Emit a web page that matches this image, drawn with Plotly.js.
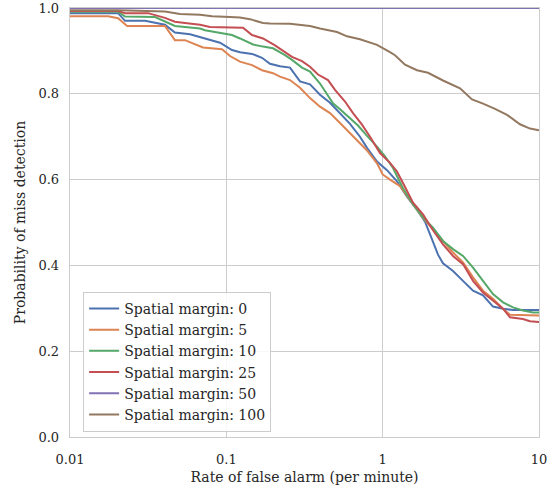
<!DOCTYPE html>
<html>
<head>
<meta charset="utf-8">
<script src="https://cdn.plot.ly/plotly-3.0.1.min.js"></script>
<style>html,body{margin:0;padding:0;background:#fff;}#chart{width:556px;height:492px;}</style>
</head>
<body>
<div id="chart"></div>
<script>
// ---- data ----
const seriesNames = ["Spatial margin: 0", "Spatial margin: 5", "Spatial margin: 10", "Spatial margin: 25", "Spatial margin: 50", "Spatial margin: 100"];
const seriesColors = ["#4C72B0", "#DD8452", "#55A868", "#C44E52", "#8172B3", "#937860"];

const xMargin0 = [0.01,0.0203,0.0225,0.0302,0.0405,0.0469,0.0586,0.073,0.0911,0.1087,0.1223,0.146,0.1691,0.1903,0.2204,0.2554,0.296,0.3429,0.3973,0.4604,0.5335,0.6182,0.7161,0.794,0.92,1.066,1.235,1.431,1.659,1.866,2.099,2.259,2.432,2.818,3.265,3.784,4.384,5.079,5.886,6.82,10];
const yMargin0 = [0.988,0.988,0.970,0.970,0.961,0.943,0.939,0.929,0.919,0.902,0.897,0.893,0.884,0.870,0.864,0.861,0.829,0.822,0.798,0.779,0.755,0.730,0.700,0.674,0.642,0.622,0.596,0.560,0.530,0.502,0.455,0.425,0.405,0.387,0.364,0.341,0.330,0.304,0.299,0.296,0.296];

const xMargin5 = [0.01,0.0175,0.0203,0.0232,0.0405,0.0469,0.0544,0.0709,0.0938,0.1056,0.1223,0.146,0.1691,0.1989,0.2204,0.2554,0.296,0.3429,0.3973,0.4604,0.5335,0.6182,0.6855,0.794,0.92,1.0,1.114,1.291,1.564,1.811,2.099,2.432,2.818,3.265,3.784,4.384,5.079,5.886,6.525,10];
const yMargin5 = [0.981,0.981,0.976,0.958,0.958,0.925,0.925,0.908,0.904,0.888,0.875,0.867,0.855,0.848,0.840,0.832,0.814,0.790,0.770,0.755,0.732,0.708,0.692,0.668,0.638,0.612,0.600,0.585,0.542,0.511,0.484,0.457,0.430,0.407,0.372,0.341,0.322,0.299,0.285,0.283];

const xMargin10 = [0.01,0.0203,0.0225,0.035,0.0469,0.0679,0.073,0.0911,0.1087,0.1223,0.1482,0.1716,0.1989,0.2373,0.263,0.3048,0.3429,0.3973,0.4812,0.5335,0.6182,0.6957,0.794,0.92,1.035,1.165,1.349,1.564,1.811,2.099,2.432,2.818,3.265,3.784,4.384,5.079,5.886,6.82,7.901,9.155,10];
const yMargin10 = [0.991,0.991,0.980,0.979,0.958,0.952,0.948,0.942,0.937,0.929,0.915,0.910,0.906,0.890,0.879,0.861,0.852,0.824,0.778,0.764,0.742,0.726,0.702,0.677,0.654,0.627,0.580,0.542,0.512,0.488,0.457,0.438,0.422,0.395,0.364,0.333,0.314,0.302,0.295,0.290,0.290];

const xMargin25 = [0.01,0.0203,0.0225,0.0316,0.0405,0.0469,0.0544,0.0679,0.0786,0.1056,0.1279,0.146,0.1716,0.2048,0.2373,0.263,0.3048,0.3429,0.3859,0.4471,0.4956,0.5743,0.6461,0.7375,0.8299,0.9616,1.114,1.235,1.349,1.564,1.811,2.099,2.432,2.818,3.265,3.784,4.384,5.079,5.886,6.525,7.901,8.76,10];
const yMargin25 = [0.993,0.993,0.988,0.988,0.977,0.968,0.965,0.961,0.956,0.955,0.954,0.937,0.929,0.913,0.898,0.886,0.876,0.863,0.845,0.832,0.809,0.782,0.755,0.728,0.700,0.662,0.639,0.619,0.592,0.546,0.519,0.482,0.449,0.422,0.403,0.364,0.337,0.318,0.299,0.279,0.275,0.270,0.268];

const xMargin50 = [0.01,0.1,1,10];
const yMargin50 = [1.0,1.0,1.0,1.0];

const xMargin100 = [0.01,0.0203,0.0405,0.0505,0.0679,0.081,0.1056,0.1223,0.1417,0.1716,0.1903,0.2554,0.3429,0.3973,0.5105,0.5915,0.7161,0.92,1.114,1.199,1.39,1.659,1.95,2.432,3.124,3.728,4.384,5.231,6.243,7.558,8.76,10];
const yMargin100 = [0.995,0.995,0.992,0.986,0.984,0.981,0.979,0.978,0.974,0.965,0.964,0.963,0.958,0.952,0.944,0.934,0.927,0.914,0.897,0.890,0.868,0.855,0.849,0.831,0.813,0.787,0.777,0.765,0.751,0.729,0.719,0.715];

const xTickVals = [0.01, 0.1, 1, 10];
const xTickText = ["0.01", "0.1", "1", "10"];
const yTickVals = [0, 0.2, 0.4, 0.6, 0.8, 1.0];
const yTickText = ["0.0", "0.2", "0.4", "0.6", "0.8", "1.0"];

// ---- chart ----
const xs = [xMargin0, xMargin5, xMargin10, xMargin25, xMargin50, xMargin100];
const ys = [yMargin0, yMargin5, yMargin10, yMargin25, yMargin50, yMargin100];
const traces = xs.map((x, i) => ({
  x: x, y: ys[i], type: "scatter", mode: "lines", name: seriesNames[i],
  line: {color: seriesColors[i], width: 2}
}));

const FONT = "'DejaVu Serif', 'Liberation Serif', serif";
const TEXT = "#262626";
const layout = {
  width: 556, height: 492,
  margin: {l: 70, r: 17, t: 8, b: 55},
  paper_bgcolor: "#ffffff", plot_bgcolor: "#ffffff",
  font: {family: FONT, size: 14, color: TEXT},
  xaxis: {
    type: "log", range: [-2, 1],
    tickvals: xTickVals, ticktext: xTickText,
    tickfont: {family: FONT, size: 13, color: TEXT},
    showgrid: true, gridcolor: "#cccccc", gridwidth: 1.25,
    showline: true, mirror: true, linecolor: "#cccccc", linewidth: 1.25,
    ticks: "outside", ticklen: 10, tickcolor: "rgba(0,0,0,0)",
    zeroline: false, ticklabeloverflow: "allow",
    title: {text: "Rate of false alarm (per minute)", font: {family: FONT, size: 14, color: TEXT}, standoff: 6}
  },
  yaxis: {
    range: [0, 1],
    tickvals: yTickVals, ticktext: yTickText,
    tickfont: {family: FONT, size: 13, color: TEXT},
    showgrid: true, gridcolor: "#cccccc", gridwidth: 1.25,
    showline: true, mirror: true, linecolor: "#cccccc", linewidth: 1.25,
    ticks: "outside", ticklen: 7, tickcolor: "rgba(0,0,0,0)",
    zeroline: false, ticklabeloverflow: "allow",
    title: {text: "Probability of miss detection", font: {family: FONT, size: 14, color: TEXT}, standoff: 9}
  },
  legend: {
    x: 0.028, y: 0.012, xanchor: "left", yanchor: "bottom",
    bgcolor: "rgba(255,255,255,0.85)", bordercolor: "#cccccc", borderwidth: 1,
    font: {family: FONT, size: 14, color: TEXT},
    itemwidth: 30, tracegroupgap: 0
  },
  showlegend: true
};

Plotly.newPlot("chart", traces, layout, {staticPlot: true, displayModeBar: false});
</script>
</body>
</html>
